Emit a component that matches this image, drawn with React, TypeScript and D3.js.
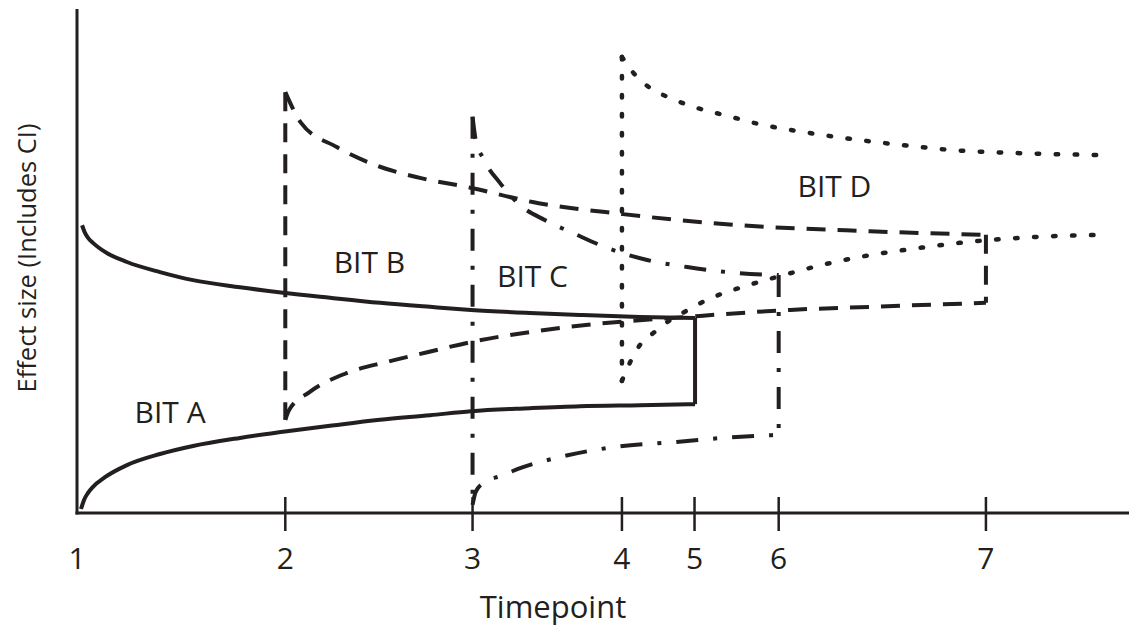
import React from "react";
import * as d3 from "d3";

// timepoints are unevenly spaced along the x axis (arbitrary time units 0..100)
const tickLabels = ["1", "2", "3", "4", "5", "6", "7"];
const tickTimes = [0, 19.8, 37.6, 51.8, 58.7, 66.7, 86.4];

// [time, effect size]
const bitAUpper = [
  [0.48, 57.1], [0.76, 55.6], [1.05, 54.6], [1.52, 53.6], [2.66, 51.8],
  [4.75, 49.8], [7.89, 47.8], [11.03, 46.2], [15.49, 44.8], [19.58, 43.7],
  [24.05, 42.7], [28.8, 41.7], [33.56, 40.9], [37.45, 40.3], [43.06, 39.7],
  [47.81, 39.3], [53.52, 38.9], [58.75, 38.7],
];
const bitALower = [
  [0.38, 0.8], [0.67, 2.6], [1.05, 4.0], [1.52, 5.2], [2.66, 7.1],
  [4.75, 9.5], [7.89, 11.7], [11.03, 13.3], [15.49, 14.9], [19.58, 16.1],
  [24.05, 17.3], [28.8, 18.5], [33.56, 19.4], [37.45, 20.2], [43.06, 20.8],
  [47.81, 21.2], [53.52, 21.4], [58.75, 21.6],
];
const bitBUpper = [
  [19.8, 83.5], [21.3, 77.4], [24.7, 72.6], [28.8, 68.7], [32.6, 66.5],
  [37.5, 64.5], [43.3, 61.7], [51.9, 59.3], [63.0, 57.1], [75.4, 55.9], [86.4, 55.2],
];
const bitBLower = [
  [19.8, 18.5], [20.15, 20.4], [22.1, 24.0], [25.7, 27.8], [29.5, 30.0],
  [33.3, 31.9], [37.4, 33.9], [45.9, 36.7], [59.2, 39.1], [67.8, 40.3],
  [75.4, 40.9], [86.4, 41.7],
];
const bitCUpper = [
  [37.6, 78.6], [37.9, 74.0], [38.6, 70.4], [40.2, 65.5], [42.1, 61.1],
  [44.5, 58.1], [47.3, 55.4], [50.4, 52.6], [54.2, 50.2], [58.0, 48.8],
  [61.8, 47.8], [66.7, 47.2],
];
const bitCLower = [
  [37.6, 1.6], [37.9, 4.2], [38.8, 6.2], [40.2, 7.3], [42.4, 9.1],
  [45.9, 11.1], [51.1, 13.1], [57.0, 14.1], [62.7, 15.1], [66.7, 15.5],
];
const bitDUpper = [
  [51.8, 90.5], [52.9, 87.3], [54.5, 84.3], [56.2, 82.5], [58.0, 81.0],
  [61.8, 78.8], [65.2, 77.0], [69.0, 75.6], [74.4, 74.0], [78.5, 73.0],
  [83.9, 71.9], [89.6, 71.4], [97.9, 71.0],
];
const bitDLower = [
  [51.8, 26.2], [52.6, 30.0], [53.5, 33.3], [54.9, 35.9], [56.4, 38.3],
  [58.1, 40.3], [59.9, 42.3], [63.5, 45.0], [66.8, 47.0], [70.8, 49.2],
  [74.4, 50.8], [80.1, 52.6], [83.9, 53.6], [91.5, 54.8], [97.9, 55.2],
];

const bitNames = ["BIT A", "BIT B", "BIT C", "BIT D"];
// label anchors [time, effect size]
const labelAnchors = [
  [8.85, 17.9], [27.8, 47.6], [43.3, 44.8], [72.0, 62.7],
];

const ink = "#231f20";
const font = "'Open Sans', 'Noto Sans', sans-serif";

const series = [
  { upper: bitAUpper, lower: bitALower, dash: null, cap: "butt", width: 4, start: false, end: true },
  { upper: bitBUpper, lower: bitBLower, dash: "19 12", cap: "butt", width: 4, start: true, end: true },
  { upper: bitCUpper, lower: bitCLower, dash: "22 15 4 15", cap: "butt", width: 4, start: true, end: true },
  { upper: bitDUpper, lower: bitDLower, dash: "2.5 16.5", cap: "round", width: 4.5, start: true, end: false },
];

export default function App() {
  const width = 1133;
  const height = 629;
  const x0 = 77;
  const yBase = 513;

  const x = d3.scaleLinear().domain([0, 100]).range([x0, 1129]);
  const y = d3.scaleLinear().domain([0, 100]).range([yBase, 9]);

  const curve = d3
    .line<number[]>()
    .x((d) => x(d[0]))
    .y((d) => y(d[1]))
    .curve(d3.curveMonotoneX);
  const straight = d3
    .line<number[]>()
    .x((d) => x(d[0]))
    .y((d) => y(d[1]));

  const paths = series.map((s, i) => {
    const style = {
      fill: "none",
      stroke: ink,
      strokeWidth: s.width,
      strokeDasharray: s.dash || undefined,
      strokeLinecap: s.cap as any,
    };
    const first = [s.upper[0], s.lower[0]];
    const last = [s.upper[s.upper.length - 1], s.lower[s.lower.length - 1]];
    return (
      <g key={i}>
        <path d={curve(s.upper) || ""} {...style} />
        <path d={curve(s.lower) || ""} {...style} />
        {s.start && <path d={straight(first) || ""} {...style} />}
        {s.end && <path d={straight(last) || ""} {...style} />}
      </g>
    );
  });

  const ticks = tickTimes.map((t, i) => (
    <g key={i}>
      {i > 0 && (
        <line x1={x(t)} x2={x(t)} y1={yBase - 16} y2={yBase + 18} stroke={ink} strokeWidth={2.5} />
      )}
      <text x={x(t)} y={569} textAnchor="middle" fontSize={30} fill={ink} fontFamily={font}>
        {tickLabels[i]}
      </text>
    </g>
  ));

  const labels = bitNames.map((name, i) => (
    <text
      key={name}
      x={x(labelAnchors[i][0])}
      y={y(labelAnchors[i][1])}
      textAnchor="middle"
      fontSize={30}
      fill={ink}
      fontFamily={font}
    >
      {name}
    </text>
  ));

  return (
    <svg
      width={width}
      height={height}
      viewBox={`0 0 ${width} ${height}`}
      style={{ position: "absolute", left: 0, top: 0, background: "#fff" }}
    >
      <rect width={width} height={height} fill="#fff" />
      {paths}
      <line x1={x0} x2={x0} y1={y(100)} y2={yBase + 1.5} stroke={ink} strokeWidth={3} />
      <line x1={x0 - 1.5} x2={x(100)} y1={yBase} y2={yBase} stroke={ink} strokeWidth={3} />
      {ticks}
      {labels}
      <text x={553} y={618} textAnchor="middle" fontSize={31} fill={ink} fontFamily={font}>
        Timepoint
      </text>
      <text
        transform={`translate(36, 258) rotate(-90)`}
        textAnchor="middle"
        fontSize={25.5}
        fill={ink}
        fontFamily={font}
      >
        Effect size (Includes CI)
      </text>
    </svg>
  );
}
